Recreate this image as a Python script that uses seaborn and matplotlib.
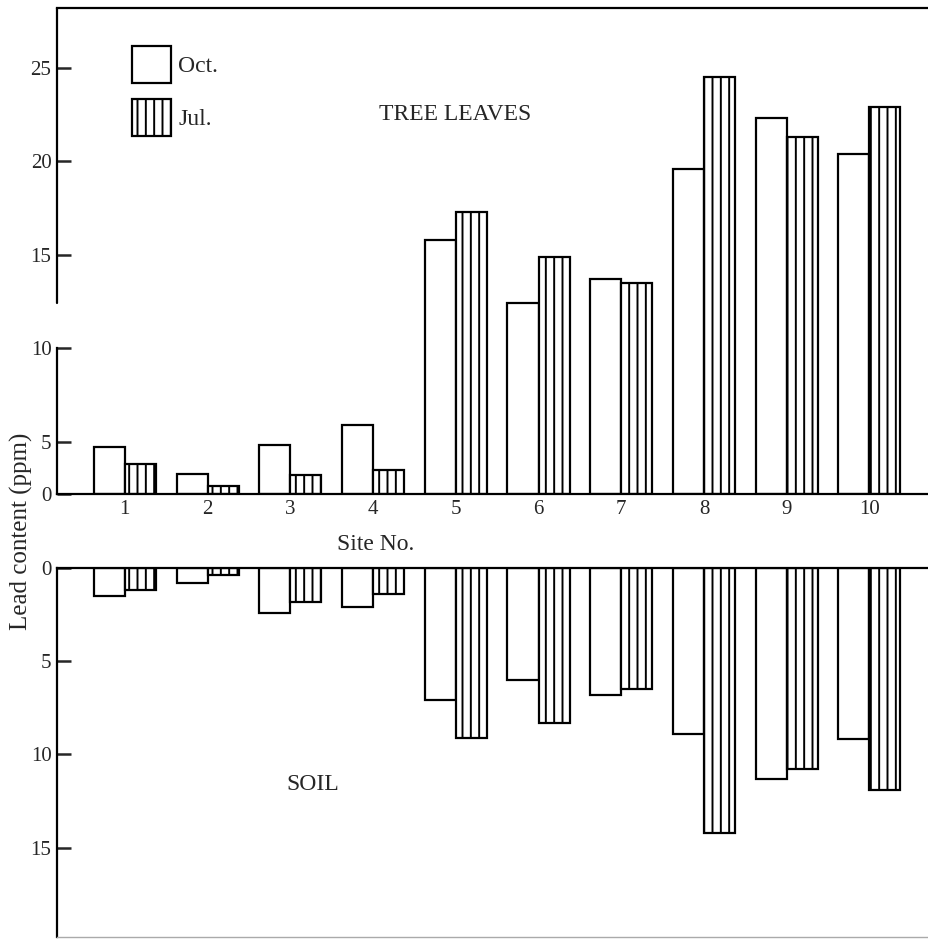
import matplotlib

matplotlib.use("Agg")
import matplotlib.pyplot as plt
import numpy as np
import pandas as pd
import seaborn as sns
from matplotlib.patches import Patch

SITES = ["1", "2", "3", "4", "5", "6", "7", "8", "9", "10"]
MONTHS = ["Oct.", "Jul."]

LEAVES_OCT = [4.5, 1.9, 4.7, 5.9, 15.8, 12.4, 13.7, 19.6, 22.3, 20.4]
LEAVES_JUL = [2.9, 0.8, 1.8, 2.3, 17.3, 14.9, 13.5, 24.5, 21.3, 22.9]
SOIL_OCT = [1.5, 0.8, 2.4, 2.1, 7.1, 6.0, 6.8, 8.9, 11.3, 9.2]
SOIL_JUL = [1.2, 0.4, 1.8, 1.4, 9.1, 8.3, 6.5, 14.2, 10.8, 11.9]

LEAVES_TICKS = [0, 5, 10, 15, 20, 25]
SOIL_TICKS = [0, 5, 10, 15]

W, H = 929, 940
LW = 1.6
LOW = 52 / 93.3  # the 0-5 band of the leaves axis is drawn compressed


def _fwd(y):
    y = np.asarray(y, dtype=float)
    return np.where(y <= 5, y * LOW, 5 * LOW + (y - 5))


def _inv(u):
    u = np.asarray(u, dtype=float)
    return np.where(u <= 5 * LOW, u / LOW, u - 5 * LOW + 5)


def long_frame(oct_vals, jul_vals) -> pd.DataFrame:
    return pd.DataFrame(
        {
            "site": SITES * 2,
            "month": [MONTHS[0]] * len(SITES) + [MONTHS[1]] * len(SITES),
            "value": list(oct_vals) + list(jul_vals),
        }
    )


def draw_bars(ax, df):
    sns.barplot(
        data=df, x="site", y="value", hue="month",
        order=SITES, hue_order=MONTHS,
        palette=["white", "white"], saturation=1,
        edgecolor="black", linewidth=LW, width=0.75,
        errorbar=None, legend=False, ax=ax,
    )
    for bar in ax.containers[1]:
        bar.set_hatch("||")
    ax.set_xlabel("")
    ax.set_ylabel("")
    ax.set_xlim(-0.82, 9.72)


sns.set_theme(style="white")
plt.rcParams["font.family"] = ["Liberation Serif", "DejaVu Serif"]
plt.rcParams["hatch.linewidth"] = 1.4
plt.rcParams["hatch.color"] = "black"

fig = plt.figure(figsize=(W / 100, H / 100), dpi=100)
left = 57 / W
ax_top = fig.add_axes([left, 1 - 494 / H, 1 - left, (494 - 8) / H])
ax_bot = fig.add_axes([left, 1 - 937 / H, 1 - left, (937 - 568) / H])

# tree leaves
draw_bars(ax_top, long_frame(LEAVES_OCT, LEAVES_JUL))
ax_top.set_yscale("function", functions=(_fwd, _inv))
ax_top.set_ylim(0, 28.2)
ax_top.set_yticks(LEAVES_TICKS)
ax_top.set_yticklabels([str(t) for t in LEAVES_TICKS])
ax_top.tick_params(axis="y", direction="in", length=10, width=1.8, labelsize=15, pad=4, left=True)
ax_top.tick_params(axis="x", length=0, labelsize=15, pad=4)
for side in ["top", "bottom", "left"]:
    ax_top.spines[side].set_color("black")
    ax_top.spines[side].set_linewidth(LW)
ax_top.spines["right"].set_visible(False)
ax_top.spines["left"].set_bounds(0, 10)
ax_top.plot([0, 0], [12.4, 28.2], color="black", lw=LW,
            transform=ax_top.get_yaxis_transform(), clip_on=False)

# soil
draw_bars(ax_bot, long_frame(SOIL_OCT, SOIL_JUL))
ax_bot.set_ylim(19.8, 0)
ax_bot.set_yticks(SOIL_TICKS)
ax_bot.set_yticklabels([str(t) for t in SOIL_TICKS])
ax_bot.tick_params(axis="y", direction="in", length=10, width=1.8, labelsize=15, pad=4, left=True)
ax_bot.tick_params(axis="x", length=0, labelbottom=False)
for side in ["top", "left"]:
    ax_bot.spines[side].set_color("black")
    ax_bot.spines[side].set_linewidth(LW)
ax_bot.spines["bottom"].set_color("#aaaaaa")
ax_bot.spines["bottom"].set_linewidth(1.0)
ax_bot.spines["right"].set_visible(False)

handles = [
    Patch(facecolor="white", edgecolor="black", linewidth=LW),
    Patch(facecolor="white", edgecolor="black", linewidth=LW, hatch="||"),
]
fig.legend(
    handles, MONTHS, loc="upper left",
    bbox_to_anchor=(132 / W, 1 - 46 / H), bbox_transform=fig.transFigure,
    frameon=False, fontsize=17, handlelength=1.65, handleheight=2.05,
    handletextpad=0.3, labelspacing=0.65, borderpad=0, borderaxespad=0,
)

fig.text(455 / W, 1 - 114 / H, "TREE LEAVES", fontsize=17, ha="center", va="center")
fig.text(313 / W, 1 - 785 / H, "SOIL", fontsize=17, ha="center", va="center")
fig.text(376 / W, 1 - 545 / H, "Site No.", fontsize=17, ha="center", va="center")
fig.text(21 / W, 1 - 531 / H, "Lead content (ppm)", fontsize=18,
         rotation=90, ha="center", va="center")

fig.savefig("out.png", dpi=100)
plt.close(fig)
